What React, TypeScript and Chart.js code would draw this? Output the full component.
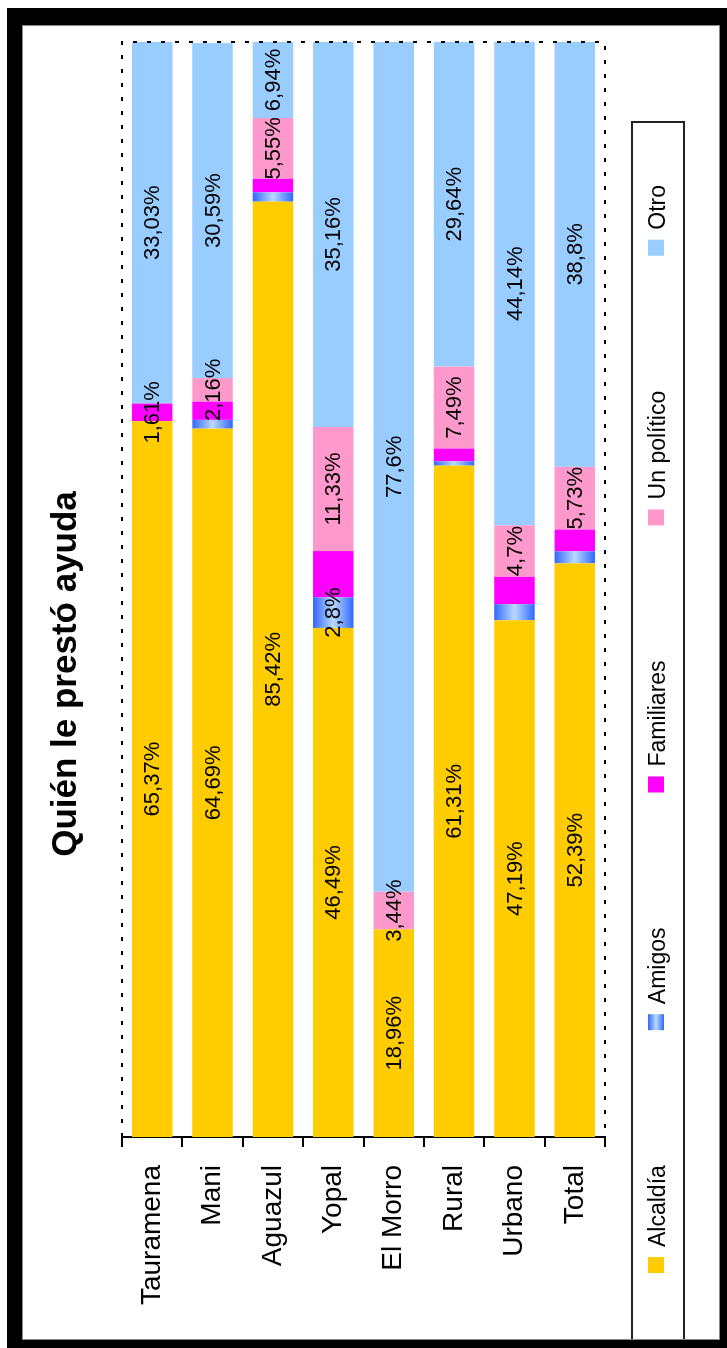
import React, { useEffect, useRef } from "react";
import { Chart, registerables } from "chart.js";

Chart.register(...registerables);

const categories = ["Tauramena", "Mani", "Aguazul", "Yopal", "El Morro", "Rural", "Urbano", "Total"];
const seriesNames = ["Alcaldía", "Amigos", "Familiares", "Un político", "Otro"];

const alcaldia = [65.37, 64.69, 85.42, 46.49, 18.96, 61.31, 47.19, 52.39];
const amigos = [0, 0.8, 0.85, 2.8, 0, 0.4, 1.47, 1.1];
const familiares = [1.61, 1.66, 1.24, 4.22, 0, 1.16, 2.5, 1.98];
const unPolitico = [0, 2.16, 5.55, 11.33, 3.44, 7.49, 4.7, 5.73];
const otro = [33.03, 30.59, 6.94, 35.16, 77.6, 29.64, 44.14, 38.8];

// which segments carry a value label
const alcaldiaLabelled = [true, true, true, true, true, true, true, true];
const amigosLabelled = [false, false, false, true, false, false, false, false];
const familiaresLabelled = [true, false, false, false, false, false, false, false];
const unPoliticoLabelled = [false, true, true, true, true, true, true, true];
const otroLabelled = [true, true, true, true, true, true, true, true];

const seriesColors = ["#FFCC00", "#6699FF", "#FF00FF", "#FF99CC", "#99CCFF"];

const FONT = "'Liberation Sans', Arial, Helvetica, sans-serif";
const BAR_PCT = 0.67;

function amigosGradient(c: CanvasRenderingContext2D, y0: number, y1: number) {
  const g = c.createLinearGradient(0, y0, 0, y1);
  g.addColorStop(0, "#3366FF");
  g.addColorStop(0.5, "#B8DAFF");
  g.addColorStop(1, "#3366FF");
  return g;
}

const fmt = (v: number) => String(v).replace(".", ",") + "%";

const valueLabelPlugin = {
  id: "valueLabels",
  afterDatasetsDraw(chart: any) {
    const c = chart.ctx;
    c.save();
    c.font = `22px ${FONT}`;
    c.fillStyle = "#000";
    c.textAlign = "center";
    c.textBaseline = "middle";
    chart.data.datasets.forEach((ds: any, i: number) => {
      const meta = chart.getDatasetMeta(i);
      meta.data.forEach((el: any, j: number) => {
        if (!ds.labelled[j] || !ds.data[j]) return;
        const x = (el.x + el.base) / 2;
        c.fillText(fmt(ds.data[j]), x, el.y + 1);
      });
    });
    c.restore();
  },
};

const borderPlugin = {
  id: "dottedBorder",
  afterDatasetsDraw(chart: any) {
    const { left, right, top, bottom } = chart.chartArea;
    const c = chart.ctx;
    c.save();
    c.strokeStyle = "#000";
    c.lineWidth = 2;
    c.setLineDash([4, 10]);
    c.beginPath();
    c.moveTo(left, top);
    c.lineTo(right, top);
    c.lineTo(right, bottom);
    c.lineTo(left, bottom);
    c.stroke();
    c.restore();
  },
};

const legendPlugin = {
  id: "customLegend",
  afterDraw(chart: any) {
    const c = chart.ctx;
    const top = chart.chartArea.bottom + 27;
    const h = 52;
    c.save();
    c.strokeStyle = "#222";
    c.lineWidth = 2;
    c.strokeRect(-10, top, 1236, h);
    c.font = `23px ${FONT}`;
    c.textBaseline = "middle";
    c.textAlign = "left";
    let x = 75;
    const my = top + 16;
    chart.data.datasets.forEach((ds: any, i: number) => {
      if (i === 1) {
        c.fillStyle = amigosGradient(c, my, my + 16);
      } else {
        c.fillStyle = seriesColors[i];
      }
      c.fillRect(x, my, 16, 16);
      c.fillStyle = "#000";
      const tx = x + 26;
      c.fillText(ds.label, tx, top + h / 2 + 1);
      x = tx + c.measureText(ds.label).width + 135;
    });
    c.restore();
  },
};

export default function App() {
  const ref = useRef<HTMLCanvasElement | null>(null);

  useEffect(() => {
    if (!ref.current) return;
    const seriesData = [alcaldia, amigos, familiares, unPolitico, otro];
    const labelled = [alcaldiaLabelled, amigosLabelled, familiaresLabelled, unPoliticoLabelled, otroLabelled];
    const datasets: any[] = seriesNames.map((name, i) => ({
      label: name,
      data: seriesData[i],
      labelled: labelled[i],
      backgroundColor:
        i === 1
          ? (ctx: any) => {
              const chart = ctx.chart;
              const ys = chart.scales && chart.scales.y;
              const area = chart.chartArea;
              if (!ys || !area || ctx.type !== "data") return seriesColors[1];
              const yc = ys.getPixelForValue(ctx.dataIndex);
              const half = ((area.bottom - area.top) / categories.length) * BAR_PCT / 2;
              return amigosGradient(chart.ctx, yc - half, yc + half);
            }
          : seriesColors[i],
      borderWidth: 0,
      barPercentage: BAR_PCT,
      categoryPercentage: 1,
    }));

    const chart = new Chart(ref.current, {
      type: "bar",
      data: { labels: categories, datasets },
      options: {
        indexAxis: "y",
        responsive: false,
        animation: false,
        devicePixelRatio: 1,
        layout: { padding: { left: 42, right: 42, top: 0, bottom: 122 } },
        scales: {
          x: { stacked: true, min: 0, max: 100, display: false },
          y: {
            stacked: true,
            offset: true,
            grid: {
              display: true,
              drawOnChartArea: false,
              drawTicks: true,
              tickLength: 10,
              color: "#000",
              lineWidth: 2,
              offset: true,
            },
            border: { display: true, color: "#000", width: 2 },
            ticks: {
              color: "#000",
              padding: 18,
              font: { size: 28, family: FONT },
            },
            afterFit(scale: any) {
              scale.width = 169;
            },
          },
        },
        plugins: {
          legend: { display: false },
          tooltip: { enabled: false },
          title: {
            display: true,
            text: "Quién le prestó ayuda",
            color: "#000",
            font: { size: 35, weight: "bold", family: FONT },
            padding: { top: 45, bottom: 35 },
          },
        },
      } as any,
      plugins: [borderPlugin, valueLabelPlugin, legendPlugin],
    });
    return () => chart.destroy();
  }, []);

  return (
    <div
      style={{
        position: "absolute",
        left: 0,
        top: 0,
        width: 727,
        height: 1348,
        overflow: "hidden",
        background: "#fff",
      }}
    >
      <div
        style={{
          position: "absolute",
          left: 0,
          top: 0,
          width: 1348,
          height: 727,
          transformOrigin: "0 0",
          transform: "translate(0px, 1348px) rotate(-90deg)",
        }}
      >
        <canvas ref={ref} width={1348} height={727} style={{ display: "block", width: 1348, height: 727 }} />
      </div>
      <div
        style={{
          position: "absolute",
          left: 22,
          top: 25,
          width: 698,
          height: 1315,
          boxSizing: "border-box",
          border: "1px solid #888",
          pointerEvents: "none",
        }}
      />
      <div
        style={{
          position: "absolute",
          left: 7,
          top: 8,
          width: 728,
          height: 1347,
          boxSizing: "border-box",
          borderStyle: "solid",
          borderColor: "#000",
          borderWidth: "17px 15px 15px 15px",
          pointerEvents: "none",
        }}
      />
    </div>
  );
}
